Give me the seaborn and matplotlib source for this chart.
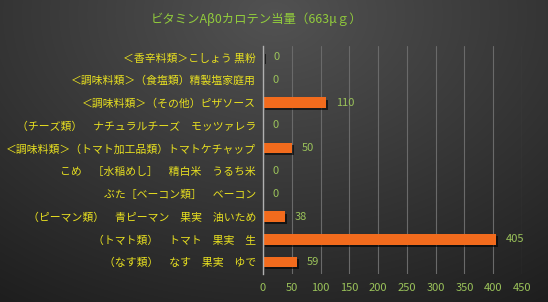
import numpy as np
import pandas as pd
import matplotlib
matplotlib.use("Agg")
import matplotlib.pyplot as plt
import matplotlib.patheffects as pe
import seaborn as sns

title = "ビタミンAβ0カロテン当量（663μｇ）"
categories = [
    "＜香辛料類＞こしょう 黒粉",
    "＜調味料類＞（食塩類）精製塩家庭用",
    "＜調味料類＞（その他）ピザソース",
    "（チーズ類）　ナチュラルチーズ　モッツァレラ",
    "＜調味料類＞（トマト加工品類）トマトケチャップ",
    "こめ　［水稲めし］　精白米　うるち米",
    "ぶた［ベーコン類］　ベーコン",
    "（ピーマン類）　青ピーマン　果実　油いため",
    "（トマト類）　トマト　果実　生",
    "（なす類）　なす　果実　ゆで",
]
values = [2, 0, 110, 0, 50, 0, 0, 38, 405, 59]
value_labels = ["0", "0", "110", "0", "50", "0", "0", "38", "405", "59"]
xticks = [0, 50, 100, 150, 200, 250, 300, 350, 400, 450]

sns.set_theme(style="dark")
plt.rcParams['font.family'] = ['Noto Sans CJK JP', 'DejaVu Sans']

W, H = 548, 302
fig = plt.figure(figsize=(W / 100, H / 100), dpi=100)

# background radial gradient
bg = fig.add_axes([0, 0, 1, 1])
yy, xx = np.mgrid[0:H, 0:W]
cx, cy = W * 0.5, H * 0.05
r = np.sqrt(((xx - cx) / W) ** 2 + ((yy - cy) / H) ** 2 * 0.6)
r = r / r.max()
light = np.array([0x52, 0x52, 0x52]) / 255
dark = np.array([0x1e, 0x1e, 0x1e]) / 255
img = light[None, None, :] * (1 - r[..., None]) + dark[None, None, :] * r[..., None]
bg.imshow(img, aspect='auto', extent=[0, W, H, 0])
bg.axis('off')

left, right = 263, 522
top, bottom = 45.6, 273.6
ax = fig.add_axes([left / W, 1 - bottom / H, (right - left) / W, (bottom - top) / H])
ax.patch.set_alpha(0)

df = pd.DataFrame({"category": categories, "value": values})
sns.barplot(data=df, y="category", x="value", orient="h", color="#f26b1d",
            width=0.45, saturation=1, ax=ax, zorder=3, edgecolor="none", linewidth=0)
for p in ax.patches:
    p.set_path_effects([pe.SimplePatchShadow(offset=(1.5, -1.5), shadow_rgbFace="#000000", alpha=0.6),
                        pe.Normal()])

ax.set_xlim(0, 450)
ax.set_ylim(9.5, -0.5)
ax.set_xticks(xticks)
ax.set_xticklabels([str(t) for t in xticks], color="#9bc35a", fontsize=8)
ax.tick_params(axis='x', length=0, pad=7)
ax.tick_params(axis='y', length=0, pad=5)
ax.set_yticks(range(len(categories)))
ax.set_yticklabels(categories, color="#e8e020", fontsize=7.8)
ax.set_xlabel("")
ax.set_ylabel("")
ax.grid(axis='x', color="#6a6a6a", linewidth=0.8, zorder=0)
ax.grid(axis='y', visible=False)
for s in ["top", "right", "bottom"]:
    ax.spines[s].set_visible(False)
ax.spines["left"].set_color("#b0b0b0")
ax.spines["left"].set_linewidth(1)
ax.spines["left"].set_zorder(4)

for i, (v, lab) in enumerate(zip(values, value_labels)):
    ax.annotate(lab, xy=(v, i), xytext=(7, 0), textcoords="offset points",
                va='center', ha='left', color="#9bc35a", fontsize=8)

fig.text(257 / W, 1 - 19 / H, title, ha='center', va='center', color="#92cc3c", fontsize=8.9)

fig.savefig("out.png", dpi=100)
